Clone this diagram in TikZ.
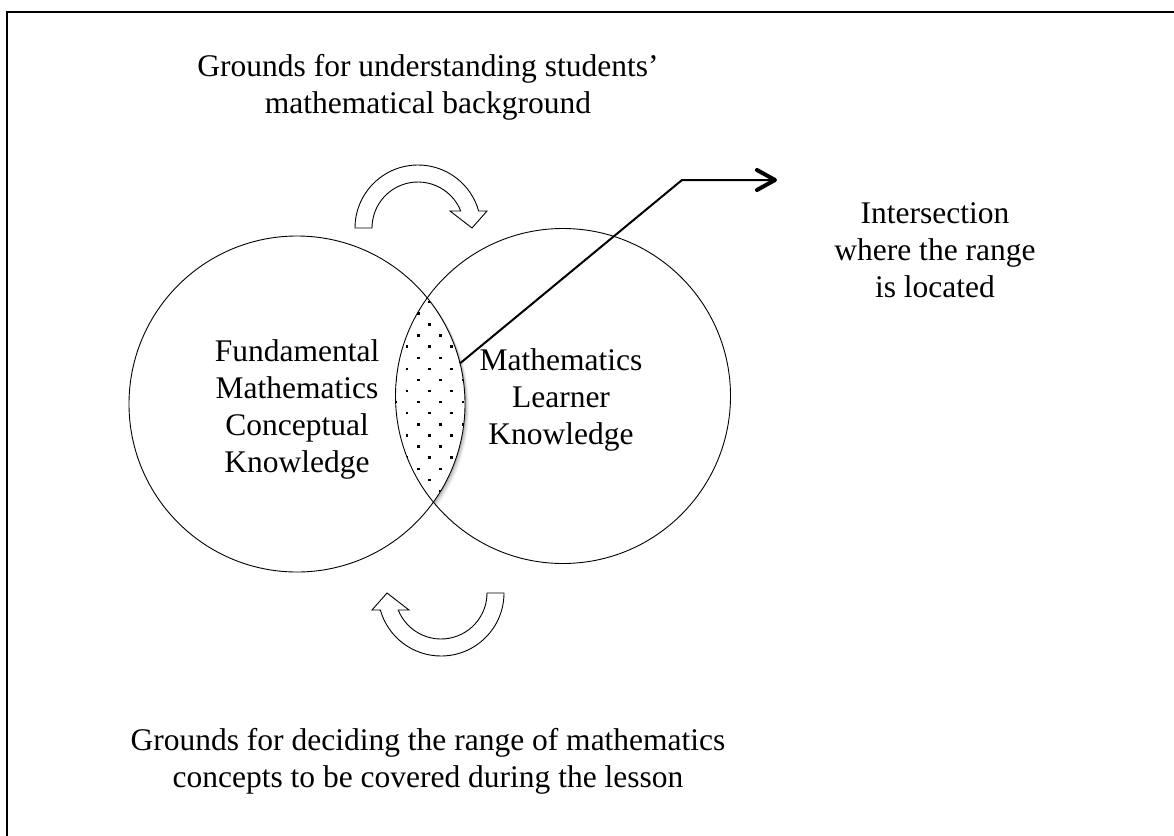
\documentclass[tikz,border=0pt]{standalone}
\usepackage{fontspec}
\setmainfont{Liberation Serif}
\begin{document}
\begin{tikzpicture}[x=1pt,y=-1pt,
  txt/.style={font=\fontsize{31.5}{37}\selectfont, align=center, inner sep=0pt},
  venn/.style={circle, draw, line width=0.9pt, inner sep=0pt, outer sep=0pt},
  bentarrow/.style={draw, line width=0.9pt, fill=white, line join=miter},
  connector/.style={line width=2pt},
  chevron/.style={line width=4pt, line cap=round, line join=round},
  frameline/.style={line width=2.5pt}]
\useasboundingbox (0,0) rectangle (1174,835);
\fill[white] (0,0) rectangle (1174,835);
\draw[frameline] (7,850) -- (7,12) -- (1190,12);

% soft shadow of the intersection
\foreach \s/\o in {4/0.05,3/0.07,2/0.09,1/0.1}{
  \begin{scope}
    \clip ([shift={(\s,\s)}]297,404) circle[radius=168];
    \fill[black,opacity=\o] ([shift={(\s,\s)}]563,396) circle[radius=167.5];
  \end{scope}}

% dotted intersection
\begin{scope}
  \clip (297,404) circle[radius=168];
  \fill[white] (563,396) circle[radius=167.5];
  \clip (563,396) circle[radius=167.5];
  \foreach \i in {-4,...,5}{
    \foreach \j in {-3,...,19}{
      \pgfmathtruncatemacro{\dotparity}{mod(\i+\j+100,2)}
      \ifnum\dotparity=0
        \fill ([shift={(-1.2,-1.2)}]418.3+11.1*\i, 313.3+11.1*\j) rectangle ++(2.4,2.4);
      \fi}}
\end{scope}

% circles
\node[venn, minimum size=336pt] (fmck) at (297,404) {};
\node[venn, minimum size=335pt] (mlk) at (563,396) {};

% labels
\node[txt] (fmckText) at (297,409.1) {\strut Fundamental\\Mathematics\\Conceptual\\Knowledge\strut};
\node[txt] (mlkText) at (561,400.1) {\strut Mathematics\\Learner\\Knowledge\strut};
\node[txt] (topText) at (428,87.6) {\strut Grounds for understanding students’\\mathematical background\strut};
\node[txt] (bottomText) at (428,761.1) {\strut Grounds for deciding the range of mathematics\\concepts to be covered during the lesson\strut};
\node[txt] (rightText) at (935,252.6) {\strut Intersection\\where the range\\is located\strut};

% connector to the intersection note
\coordinate (bend) at (682,180);
\coordinate (tip) at (775,180);
\draw[connector] (fmck.14.5) -- (bend) -- (tip);
\draw[chevron] ([shift={(-18,-10)}]tip) -- (tip) -- ([shift={(-18,10)}]tip);

% bent block arrows
\draw[bentarrow] (355,228) arc[start angle=180, end angle=344.3, radius=63]
  -- (487,211) -- (472,228) -- (450,211) -- (460.74,211)
  arc[start angle=338.3, end angle=180, radius=46] -- cycle;
\draw[bentarrow] (504,593) arc[start angle=0, end angle=164.3, radius=63]
  -- (372,610) -- (387,593) -- (409,610) -- (398.26,610)
  arc[start angle=158.3, end angle=0, radius=46] -- cycle;
\end{tikzpicture}
\end{document}
